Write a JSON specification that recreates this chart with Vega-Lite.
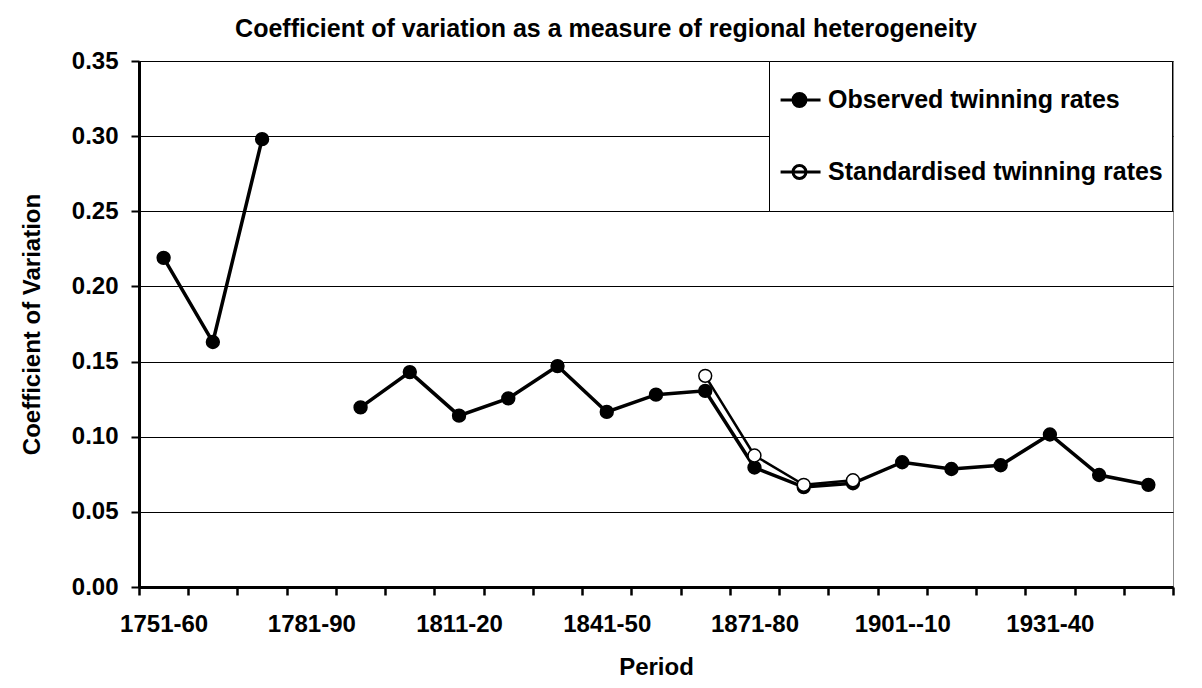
{
  "$schema": "https://vega.github.io/schema/vega-lite/v6.json",
  "width": 1034,
  "height": 526,
  "autosize": {"type": "none"},
  "padding": {"left": 139, "top": 61, "right": 29, "bottom": 101},
  "background": "white",
  "title": {
    "text": "Coefficient of variation as a measure of regional heterogeneity",
    "font": "Liberation Sans",
    "fontSize": 25,
    "fontWeight": "bold",
    "color": "black",
    "anchor": "middle",
    "frame": "group",
    "baseline": "alphabetic",
    "dx": -50,
    "dy": 29,
    "offset": 16
  },
  "data": {
    "values": [
      {"period": "1751-60", "series": "Observed twinning rates", "value": 0.219},
      {"period": "1761-70", "series": "Observed twinning rates", "value": 0.163},
      {"period": "1771-80", "series": "Observed twinning rates", "value": 0.298},
      {"period": "1781-90", "series": "Observed twinning rates", "value": null},
      {"period": "1791-1800", "series": "Observed twinning rates", "value": 0.1195},
      {"period": "1801-10", "series": "Observed twinning rates", "value": 0.143},
      {"period": "1811-20", "series": "Observed twinning rates", "value": 0.114},
      {"period": "1821-30", "series": "Observed twinning rates", "value": 0.1255},
      {"period": "1831-40", "series": "Observed twinning rates", "value": 0.147},
      {"period": "1841-50", "series": "Observed twinning rates", "value": 0.1165},
      {"period": "1851-60", "series": "Observed twinning rates", "value": 0.128},
      {"period": "1861-70", "series": "Observed twinning rates", "value": 0.1305},
      {"period": "1871-80", "series": "Observed twinning rates", "value": 0.0795},
      {"period": "1881-90", "series": "Observed twinning rates", "value": 0.0665},
      {"period": "1891-1900", "series": "Observed twinning rates", "value": 0.069},
      {"period": "1901--10", "series": "Observed twinning rates", "value": 0.083},
      {"period": "1911-20", "series": "Observed twinning rates", "value": 0.0785},
      {"period": "1921-30", "series": "Observed twinning rates", "value": 0.081},
      {"period": "1931-40", "series": "Observed twinning rates", "value": 0.1015},
      {"period": "1941-50", "series": "Observed twinning rates", "value": 0.0745},
      {"period": "1951-60", "series": "Observed twinning rates", "value": 0.068},
      {"period": "1861-70", "series": "Standardised twinning rates", "value": 0.1405},
      {"period": "1871-80", "series": "Standardised twinning rates", "value": 0.0875},
      {"period": "1881-90", "series": "Standardised twinning rates", "value": 0.068},
      {"period": "1891-1900", "series": "Standardised twinning rates", "value": 0.071}
    ]
  },
  "encoding": {
    "x": {
      "field": "period",
      "type": "nominal",
      "bandPosition": 0.5,
      "sort": null,
      "scale": {
        "type": "band",
        "paddingInner": 0,
        "paddingOuter": 0,
        "domain": ["1751-60","1761-70","1771-80","1781-90","1791-1800","1801-10","1811-20","1821-30","1831-40","1841-50","1851-60","1861-70","1871-80","1881-90","1891-1900","1901--10","1911-20","1921-30","1931-40","1941-50","1951-60"]
      },
      "axis": {
        "title": "Period",
        "labelAngle": 0,
        "labelOverlap": false,
        "labelExpr": "indexof(['1751-60','1781-90','1811-20','1841-50','1871-80','1901--10','1931-40'], datum.value) >= 0 ? datum.value : ''",
        "tickBand": "extent",
        "tickSize": 8,
        "tickWidth": 2.5,
        "tickColor": "black",
        "domainColor": "black",
        "domainWidth": 3,
        "labelPadding": 17,
        "titlePadding": 19,
        "grid": false
      }
    },
    "y": {
      "field": "value",
      "type": "quantitative",
      "scale": {"domain": [0, 0.35], "nice": false, "zero": true},
      "axis": {
        "title": "Coefficient of Variation",
        "values": [0, 0.05, 0.1, 0.15, 0.2, 0.25, 0.3, 0.35],
        "format": ".2f",
        "tickSize": 8,
        "tickWidth": 2,
        "tickColor": "black",
        "domainColor": "black",
        "domainWidth": 3,
        "labelPadding": 13,
        "titlePadding": 27,
        "grid": true,
        "gridColor": "black",
        "gridWidth": 1
      }
    }
  },
  "layer": [
    {
      "transform": [{"filter": "datum.series === 'Observed twinning rates'"}],
      "mark": {"type": "line", "color": "black", "strokeWidth": 3.5, "invalid": "break-paths-show-domains"},
      "encoding": {}
    },
    {
      "transform": [{"filter": "datum.series === 'Standardised twinning rates'"}],
      "mark": {"type": "line", "color": "black", "strokeWidth": 2.5},
      "encoding": {}
    },
    {
      "transform": [{"filter": "datum.value != null"}],
      "mark": {"type": "point", "filled": false, "stroke": "black", "strokeWidth": 1.5, "opacity": 1, "size": 165},
      "encoding": {
        "fill": {
          "field": "series",
          "type": "nominal",
          "scale": {"domain": ["Observed twinning rates", "Standardised twinning rates"], "range": ["black", "white"]},
          "legend": {
            "title": null,
            "orient": "none",
            "legendX": 630,
            "legendY": 0,
            "padding": 9,
            "clipHeight": 60,
            "strokeColor": "black",
            "fillColor": "white",
            "symbolType": "M-0.96,0H0.52M-0.02,0A0.24,0.24,0,1,1,-0.5,0A0.24,0.24,0,1,1,-0.02,0",
            "symbolSize": 2916,
            "symbolStrokeColor": "black",
            "symbolStrokeWidth": 3,
            "symbolOpacity": 1,
            "rowPadding": 12,
            "labelOffset": -7,
            "labelFont": "Liberation Sans",
            "labelFontSize": 25,
            "labelFontWeight": "bold",
            "labelColor": "black",
            "labelLimit": 500
          }
        }
      }
    }
  ],
  "config": {
    "view": {"stroke": "#888888", "strokeWidth": 1},
    "axis": {
      "labelFont": "Liberation Sans",
      "labelFontSize": 24,
      "labelFontWeight": "bold",
      "labelColor": "black",
      "titleFont": "Liberation Sans",
      "titleFontSize": 24,
      "titleFontWeight": "bold",
      "titleColor": "black"
    }
  }
}
